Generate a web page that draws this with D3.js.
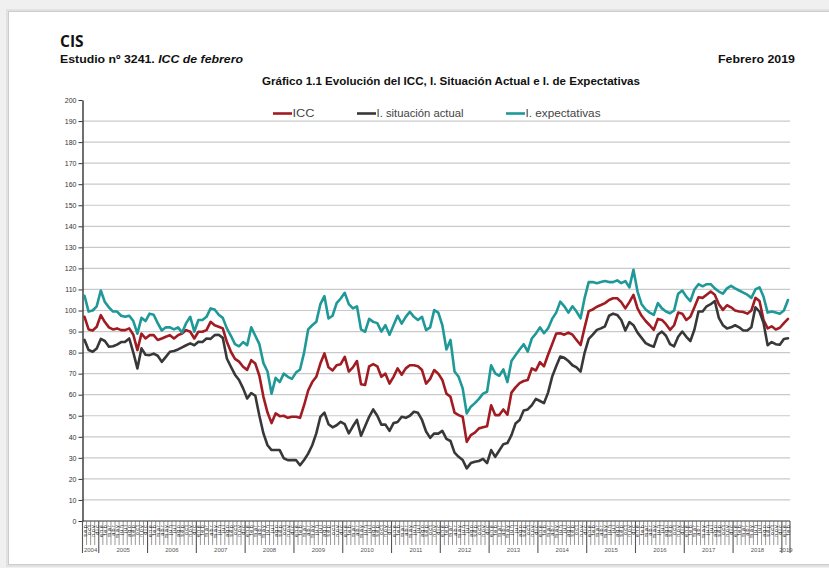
<!DOCTYPE html>
<html><head><meta charset="utf-8">
<script src="https://cdn.jsdelivr.net/npm/d3@7"></script>
<style>
html,body{margin:0;padding:0;background:#f0f0f0;overflow:hidden;}
svg{display:block;}
</style></head><body>
<svg id="c" width="829" height="568"></svg>
<script>
// ---- data ----
const years = [2004,2005,2006,2007,2008,2009,2010,2011,2012,2013,2014,2015,2016,2017,2018,2019];
const monthNames = ["ene","feb","mar","abr","may","jun","jul","ago","sep","oct","nov","dic"];
const firstMonthIndex = 8;   // septiembre 2004
const lastMonthIndex = 1;    // febrero 2019

const seriesNames = ["ICC", "I. situación actual", "I. expectativas"];
const seriesColors = ["#a11c22", "#383838", "#1f9898"];

const icc = [
 97,91,90.5,92.3,97.8,94.5,92,91,91.5,90.7,
 90.7,91.5,88.5,81.2,89,86.7,88.3,88.3,86,86.7,
 87.5,88.3,86.7,88.3,89.1,90.7,89.9,86.7,89.9,89.9,
 90.7,94.6,93,92.3,91.5,85.1,80.4,77,75.7,73.3,
 71.8,76.4,74.8,69,59,51.5,46.5,51.1,49.8,50,
 49,49.5,49.5,49,55,62,
 66,68.5,74.8,79.6,73,71.5,74,74.5,78,71,
 73,76,65,64.6,73.5,74.5,73.5,68.5,70,65.3,
 68.5,72.5,69.5,72.5,74,74,73.5,71.7,65.3,67.5,
 71.7,70,67,60.5,59,51.5,50.3,49.5,37.6,40.8,
 42,44,44.5,45,55,50.3,50.3,53,50.5,61,
 63.5,65.5,66.5,67,72.5,71.5,75.5,73.5,
 79,84,89,89.2,88.5,89.5,88.5,86,83.6,92,
 99.7,100.5,101.8,102.6,103.5,105,105.8,105.8,104,101,
 104,107.4,101,97.5,95,93,90.8,96,95.5,93.5,
 90.8,93,99,98.5,95.5,97,101.5,106.3,106,107.5,
 109,107.5,103,100.3,102.5,101.5,100,99.5,99.3,98.5,
 100,106,104.5,95.5,91.5,92.5,91,91.8,94,96
];
const actual = [
 86,81.2,80.4,82,86.5,85.5,82.8,83,83.8,85,
 85.1,86.7,80,72.5,82,79,78.8,79.5,78.5,75.6,
 78,80.4,80.8,81.5,82.5,83.5,84.4,83.5,85.1,85,
 86.7,86.5,88.3,88.5,87,77.2,73.3,69.5,67,63,
 58.2,60.8,59.5,50,41.6,36,33.7,33.7,33.7,29.8,
 28.9,28.9,29,26.5,29,32,
 36,41.6,49.5,51.5,46,44.5,45.5,47.1,46,41.6,
 45,48,40.5,45,49.5,53,50,45.8,45.8,42.8,
 46.5,47,49.5,49,50,51.9,51.4,48,42.5,39.5,
 41.6,41.5,42.8,39,38,32.5,30.5,29,25,27.5,
 28.1,28.5,29.5,27.5,33.7,30.5,33.5,36.5,37,40.8,
 46.3,48,52.5,53,55,58,57,56,
 61,68.5,73.5,78.1,77.5,76,74,73,71,80,
 86.5,88.5,90.8,91.5,92.5,97.5,98.5,97.9,95.5,90.5,
 94.5,93,89.5,87,84.5,83.5,82.8,88.5,90,88,
 84,83,87.5,90,87.5,85.5,91,99.5,99.5,102,
 103,104.5,96.5,93,91.5,92,93,92,90.5,90.5,
 92,101.5,99.5,94,83.5,85,84,83.7,86.5,86.8
];
const expect = [
 107,99.5,100,102,109.5,104,101.5,99.5,99.5,97.5,
 97,97.5,95,89,96.5,95,98.5,98,94,90.5,
 92,92,91,92,89.5,94,97,90,95.5,95.5,
 97,101,100.5,98,96.5,91.5,88,84,83,85,
 83.5,92,88,84,75,71,60.5,68,66,70,
 68.5,67.5,70.5,72,80,91,
 93,94.6,103,106.8,96.2,97.5,103.5,105.7,108.4,103,
 101,102,91,89.9,96,94.6,94,90,93,88.5,
 93,97.5,93.8,97,99.4,97,95.5,97,90.7,92,
 100.2,99,93,81.5,86,71,68.5,63,51.1,54.3,
 56,58,60.5,61.4,74,70.1,69,72,66,76,
 78.8,81.5,84,80.5,86.7,89,92,89.2,
 91.5,96,99,104.2,102,99,102,99.5,96.3,106,
 113.5,113.5,113,113.5,114,113.5,113.5,114.3,113,114,
 111,119.3,109,103,100.5,99,97.9,103.5,101,99.5,
 98.7,100,108,109.5,106.6,104.5,110,112.5,111.5,112.5,
 112.5,110.5,109,108,110.5,111.7,110.5,109.5,108.5,107.5,
 106,110,111,106.5,99,99.5,99,98.5,100,105
];
const yTicks = [0,10,20,30,40,50,60,70,80,90,100,110,120,130,140,150,160,170,180,190,200];

// categories built from years and month names
const categories = [];
years.forEach((yr, yi) => {
  monthNames.forEach((m, mi) => {
    if (yi === 0 && mi < firstMonthIndex) return;
    if (yi === years.length - 1 && mi > lastMonthIndex) return;
    categories.push({year: yr, month: m, mi: mi});
  });
});

// ---- drawing ----
const svg = d3.select("#c");
const FS = "'Liberation Sans',Arial,sans-serif";

// page
svg.append("rect").attr("x",0).attr("y",0).attr("width",829).attr("height",568).attr("fill","#f0f0f0");
svg.append("rect").attr("x",6).attr("y",9).attr("width",830).attr("height",558).attr("fill","#e2e2e2");
svg.append("rect").attr("x",8.5).attr("y",11.5).attr("width",830).attr("height",553)
  .attr("fill","#ffffff").attr("stroke","#cccccc").attr("stroke-width",1);

// header
svg.append("text").attr("x",60).attr("y",47).text("CIS")
  .attr("font-family","'Open Sans',Calibri,sans-serif").attr("font-weight","bold").attr("font-size",15.5).attr("fill","#111");
const sub = svg.append("text").attr("x",60).attr("y",63)
  .attr("font-family",FS).attr("font-weight","bold").attr("font-size",11.5).attr("fill","#111")
  .attr("textLength",183).attr("lengthAdjust","spacingAndGlyphs");
sub.append("tspan").text("Estudio nº 3241. ");
sub.append("tspan").attr("font-style","italic").text("ICC de febrero");
svg.append("text").attr("x",718).attr("y",63).text("Febrero 2019")
  .attr("font-family",FS).attr("font-weight","bold").attr("font-size",11.5).attr("fill","#111")
  .attr("textLength",77).attr("lengthAdjust","spacingAndGlyphs");
svg.append("text").attr("x",262).attr("y",85)
  .text("Gráfico 1.1 Evolución del ICC, I. Situación Actual e I. de Expectativas")
  .attr("font-family",FS).attr("font-weight","bold").attr("font-size",10).attr("fill","#111")
  .attr("textLength",378).attr("lengthAdjust","spacingAndGlyphs");

// scales
const x = d3.scaleBand().domain(d3.range(categories.length)).range([82.5, 790]).padding(0);
const y = d3.scaleLinear().domain([0,200]).range([521,100]);
const bw = x.bandwidth();
const bx = i => (i < categories.length ? x(i) : x(categories.length-1) + bw);

// gridlines
svg.append("g").selectAll("line").data(yTicks.filter(v => v > 0 && v < 200)).join("line")
  .attr("x1", x.range()[0]).attr("x2", x.range()[1])
  .attr("y1", d => y(d)).attr("y2", d => y(d))
  .attr("stroke","#c9c9c9").attr("stroke-width",1.2);

// y axis
const gy = svg.append("g").attr("transform",`translate(${x.range()[0]},0)`)
  .call(d3.axisLeft(y).tickValues(yTicks).tickSize(4).tickSizeOuter(0).tickPadding(2));
gy.select(".domain").attr("stroke","#333").attr("stroke-width",1.4);
gy.selectAll(".tick line").attr("stroke","#333");
gy.selectAll("text").attr("font-family",FS).attr("font-size",7).attr("fill","#333");

// x axis (multi-level categories)
const gx = svg.append("g");
gx.append("line").attr("x1",x.range()[0]).attr("x2",x.range()[1]).attr("y1",y(0)).attr("y2",y(0))
  .attr("stroke","#333").attr("stroke-width",1.2);
const isYearEdge = i => (i === 0 || i === categories.length || categories[i].mi === 0);
const bounds = d3.range(categories.length + 1);
gx.selectAll("line.m").data(bounds).join("line").attr("class","m")
  .attr("x1", i => bx(i)).attr("x2", i => bx(i))
  .attr("y1", y(0)).attr("y2", i => isYearEdge(i) ? 553 : 545)
  .attr("stroke","#555").attr("stroke-width", i => isYearEdge(i) ? 1.1 : 0.6);
gx.selectAll("text.m").data(categories).join("text").attr("class","m")
  .attr("transform",(d,i) => `translate(${x(i)+bw/2},${y(0)+3}) rotate(-90)`)
  .attr("text-anchor","end").attr("dy","0.35em")
  .attr("font-family",FS).attr("font-size",5.6).attr("letter-spacing",1.2).attr("fill","#222")
  .text(d => d.month);
// year labels
const yearGroups = d3.groups(categories.map((c,i)=>({...c,i})), d => d.year);
gx.selectAll("text.y").data(yearGroups).join("text").attr("class","y")
  .attr("x", g => (bx(g[1][0].i) + bx(g[1][g[1].length-1].i + 1)) / 2)
  .attr("y", 552).attr("text-anchor","middle")
  .attr("font-family",FS).attr("font-size",6).attr("fill","#555")
  .text(g => g[0]);

// lines
const line = d3.line().x((d,i) => x(i) + bw/2).y(d => y(d));
const series = [icc, actual, expect];
svg.append("g").selectAll("path").data(series).join("path")
  .attr("d", d => line(d)).attr("fill","none")
  .attr("stroke",(d,i) => seriesColors[i]).attr("stroke-width",2.6)
  .attr("stroke-linejoin","round").attr("stroke-linecap","round");

// legend
const legendX = [273, 357, 506];
const legendW = [22, 87, 75];
const lg = svg.append("g").selectAll("g").data(seriesNames).join("g")
  .attr("transform",(d,i) => `translate(${legendX[i]},113.5)`);
lg.append("line").attr("x1",0).attr("x2",19).attr("y1",0).attr("y2",0)
  .attr("stroke",(d,i) => seriesColors[i]).attr("stroke-width",2.6);
lg.append("text").attr("x",19.5).attr("y",3.5).text(d => d)
  .attr("textLength",(d,i) => legendW[i]).attr("lengthAdjust","spacingAndGlyphs")
  .attr("font-family",FS).attr("font-size",10).attr("fill","#444");
</script>
</body></html>
